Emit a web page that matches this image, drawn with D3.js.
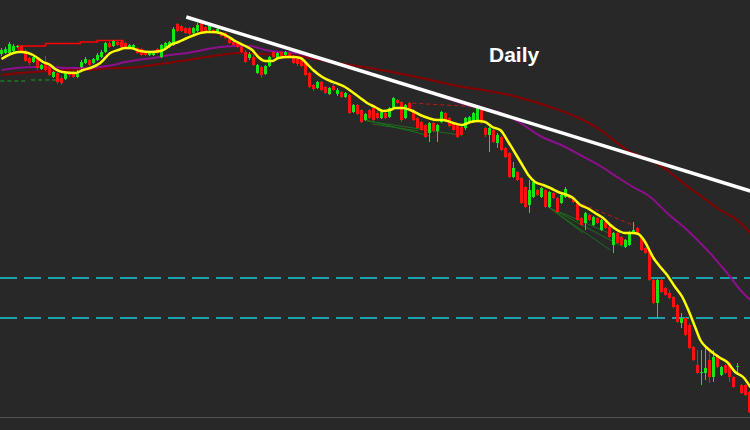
<!DOCTYPE html>
<html><head><meta charset="utf-8">
<script src="https://cdn.jsdelivr.net/npm/d3@7"></script>
<style>html,body{margin:0;padding:0;background:#282828;overflow:hidden}</style>
</head><body>
<svg id="c" width="750" height="430"></svg>
<script>
// Values are in chart level units (level grows downward)
const openV = [54,53,53,51,47,46,51,58,62,59, 69,64,67,77,73,78,79,72,72,77, 67,63,60,63,60,57,52,43,46,42, 42,43,48,49,48,49,52,55,55,49,
 57,48,47,45,24,26,28,28,33,31, 23,27,30,30,33,33,33,37,42,43, 47,52,58,57,73,67,74,66,52,58, 52,55,53,58,59,60,63,73,85,88,
 82,87,94,86,94,92,97,95,112,105, 110,120,110,108,113,118,113,117,108,100, 102,118,103,110,118,122,125,133,123,131, 122,113,118,123,125,127,128,123,122,120,
 110,128,135,130,143,137,148,153,177,172, 178,187,205,197,190,197,190,207,193,198, 203,197,195,198,202,218,223,215,225,218, 230,222,227,245,233,237,247,245,233,228,
 237,248,250,280,303,280,288,293,297,305, 323,318,325,347,365,373,373,360,377,355, 375,365,363,377,367,385,385,392];
const closeV = [50,49,44,46,46,51,61,63,57,68, 65,70,75,72,82,83,73,75,77,72, 62,59,65,59,55,52,43,47,41,45, 47,47,45,45,53,55,55,52,52,53,
 45,43,42,29,31,31,33,34,28,25, 33,32,25,33,29,36,38,43,45,47, 52,62,54,65,65,75,66,57,57,53, 56,52,56,63,64,66,75,87,89,82,
 90,93,88,90,90,97,93,113,105,114, 122,114,118,120,118,112,118,108,98,103, 120,105,110,120,128,130,137,123,131,125, 112,120,126,130,137,135,118,117,113,108,
 123,135,128,142,135,150,157,177,168,180, 203,207,190,182,195,188,207,192,198,212, 195,189,198,202,220,225,213,220,217,223, 220,228,237,233,243,245,240,232,230,233,
 250,253,280,303,280,292,295,298,307,322, 318,335,348,360,373,372,368,377,357,367, 367,373,377,387,366,393,395,412];
const highV = [48,47,42,44,45,45,49,57,56,57, 64,56,66,71,72,76,72,71,71,70, 60,57,59,58,53,50,42,41,40,41, 40,42,44,44,47,48,51,51,51,48,
 44,42,41,27,23,25,27,27,27,23, 22,26,24,29,28,32,32,36,41,42, 46,50,52,55,64,66,65,56,51,52, 51,51,52,55,58,59,62,72,84,81,
 81,86,87,84,88,91,92,94,104,104, 109,113,109,107,111,111,112,107,97,99, 101,104,102,109,117,121,124,122,122,124, 111,112,117,122,124,126,117,116,112,105,
 109,127,127,129,133,136,147,152,162,171, 177,186,180,180,189,187,189,191,192,197, 194,187,194,197,201,217,212,214,216,217, 219,221,226,232,232,236,239,231,222,227,
 236,247,249,279,279,279,287,290,296,304, 313,317,323,346,350,350,348,352,350,354, 366,364,362,376,363,384,384,391];
const lowV = [56,54,55,52,48,52,62,65,63,70, 70,71,76,78,84,85,80,77,78,78, 68,64,66,64,61,58,53,48,47,46, 48,49,49,50,54,56,56,56,56,54,
 58,49,48,46,32,32,34,35,34,32, 34,33,31,34,34,37,39,44,46,48, 53,63,60,66,74,78,75,67,58,59, 57,56,57,64,66,67,76,88,91,89,
 91,94,95,91,96,98,98,114,113,115, 123,121,119,121,119,119,119,118,109,104, 122,119,111,121,129,131,138,142,132,142, 123,121,127,131,138,136,130,124,123,121,
 124,137,152,143,148,151,158,178,178,181, 204,208,213,198,196,198,208,208,199,213, 204,198,199,203,221,226,230,221,226,224, 231,229,238,253,244,246,248,246,234,234,
 251,254,281,304,318,293,296,299,308,323, 328,336,349,361,374,385,380,383,382,368, 376,374,382,388,375,394,396,413];

// Moving averages read at sample points: [candle index, level]
const maFast = [[0,59],[4.2,52],[5.2,52],[7.9,55],[10.4,62],[12.2,65],[13.4,69],[15.2,72],[18.4,73],[20.4,70],[22.2,68],[24.7,63],[27.2,53],[29.2,50],[30.9,48],[32.2,48],[34.7,51],[37.2,52],[39.7,51],[40.9,49],[42.2,45],[44.2,42],[46.4,38],[48.9,34],[51.4,32],[52.9,32],[54.7,33],[56.4,36],[58.4,41],[60.4,45],[62.7,50],[64.2,57],[65.9,61],[67.7,61],[69.2,58],[71.4,57],[72.9,57],[74.7,58],[76.4,64],[77.9,70],[80.2,77],[82.2,81],[84.2,84],[85.9,87],[87.7,92],[89.7,98],[91.4,103],[93.4,107],[95.4,111],[97.2,110],[98.4,108],[100.4,108],[102.2,110],[104.7,115],[106.7,118],[108.9,120],[110.4,120],[112.9,123],[115.2,125],[117.2,122],[119.2,121],[120.9,122],[122.7,127],[124.7,130],[126.7,142],[128.4,153],[130.2,165],[131.7,175],[133.4,182],[135.4,185],[137.2,188],[139.2,192],[141.4,195],[142.9,198],[144.7,205],[146.4,208],[148.4,213],[150.4,218],[152.2,225],[153.9,230],[155.9,233],[157.9,233],[159.2,234],[160.9,242],[162.2,252],[163.0,258],[164.3,265],[166.4,275],[168.4,287],[170.2,297],[171.7,310],[173.4,327],[174.7,340],[176.4,348],[177.9,353],[179.7,358],[181.4,362],[183.4,372],[185.4,377],[187.2,387]];
const maMid = [[0,70],[4,68],[8,67],[12.2,67],[16.4,68],[20.4,68],[24.7,67],[27.9,65],[30.9,62],[33.9,60],[37.9,58],[42.2,55],[46.4,53],[50.4,50],[54.7,47],[58.9,46],[62.2,46],[65.9,50],[69.2,52],[73.4,53],[82.2,62],[94.7,77],[104.7,89],[114.7,103],[116.4,105],[119.7,108],[124.7,113],[129.7,123],[134.7,136],[140.4,146],[144.7,155],[149.7,166],[153.9,177],[157.9,187],[162.2,197],[166.4,213],[171.4,230],[176.4,250],[181.4,273],[184.7,290],[187.2,300]];
const maSlow = [[0,75],[4.7,73],[8,72],[12.2,71],[16.4,70],[20.4,70],[24.7,69],[28.9,68],[30.9,68],[37.9,65],[46.4,60],[54.7,55],[58.9,53],[62.2,53.5],[73.9,56],[82.2,62],[90.4,67],[98.9,73],[107.2,80],[115.4,87],[120.4,90],[128.9,97],[137.2,107],[145.4,120],[149.7,130],[156.4,150],[162.2,160],[166.4,170],[170.4,183],[175.2,197],[179.7,210],[183.9,220],[187.2,233]];

// Annotations: [candle index, level]
const trendLine = [[46.2,17],[187.2,191]];
const levels = [278, 318];
const redStep = [[4.2,50],[4.2,46],[11,46],[11,43.5],[19.7,43.5],[19.7,42],[23.9,42],[23.9,40.5],[30.4,40.5],[30.4,46]];
const greenDash = [[[-0.3,81],[6.7,81]],[[7.4,80],[15.2,80]]];
const redDash = [[[102.2,108],[102.2,103],[119.2,107]],[[145.2,204],[158.4,226]]];
const greenFan = [[[91.2,120],[107.2,136]],[[91.2,121],[114.7,135]],[[92.7,124],[104.2,131]],
                  [[136.7,207],[145.4,233]],[[136.7,207],[152.2,250]],[[137.2,208],[155.4,247]],[[138.4,210],[155.9,240]]];
const label = "Daily";

const W = 750, H = 430;
const svg = d3.select("#c");
const x = d3.scaleLinear().domain([0, 187]).range([1.5, 749.5]);
const y = d3.scaleLinear().domain([0, 430]).range([0, 430]);

svg.append("rect").attr("width", W).attr("height", H).attr("fill", "#282828");

// horizontal levels
svg.selectAll(".lvl").data(levels).join("line")
  .attr("x1", 0).attr("x2", W).attr("y1", d => y(d)).attr("y2", d => y(d))
  .attr("stroke", "#1aa3aa").attr("stroke-width", 2).attr("stroke-dasharray", "17,7");
// bottom separator
svg.append("line").attr("x1", 0).attr("x2", W).attr("y1", 417.5).attr("y2", 417.5)
  .attr("stroke", "#4e5358").attr("stroke-width", 1);

const line = d3.line().x(d => x(d[0])).y(d => y(d[1]));
const smooth = d3.line().x(d => x(d[0])).y(d => y(d[1])).curve(d3.curveMonotoneX);

svg.append("path").attr("d", smooth(maSlow)).attr("fill", "none").attr("stroke", "#8a0000").attr("stroke-width", 2);
svg.append("path").attr("d", smooth(maMid)).attr("fill", "none").attr("stroke", "#8e0f8e").attr("stroke-width", 2);

// annotation lines
svg.append("path").attr("d", line(redStep)).attr("fill", "none").attr("stroke", "#ff0000").attr("stroke-width", 1.5);
greenDash.forEach(s => svg.append("path").attr("d", line(s)).attr("fill", "none")
  .attr("stroke", "#1f7a1f").attr("stroke-width", 1.5).attr("stroke-dasharray", "4,3"));
redDash.forEach(s => svg.append("path").attr("d", line(s)).attr("fill", "none")
  .attr("stroke", "#c01818").attr("stroke-width", 1).attr("stroke-dasharray", "4,3"));
greenFan.forEach(s => svg.append("path").attr("d", line(s)).attr("fill", "none")
  .attr("stroke", "#1c6e1c").attr("stroke-width", 1));

// candles
const idx = d3.range(openV.length);
const col = i => closeV[i] > openV[i] ? "#ff1010" : "#16e616";
svg.selectAll(".wick").data(idx).join("line")
  .attr("x1", i => x(i)).attr("x2", i => x(i))
  .attr("y1", i => y(highV[i])).attr("y2", i => y(lowV[i]))
  .attr("stroke", col).attr("stroke-width", 1);
svg.selectAll(".body").data(idx).join("rect")
  .attr("x", i => x(i) - 1.5).attr("width", 3)
  .attr("y", i => y(Math.min(openV[i], closeV[i])))
  .attr("height", i => Math.max(1, Math.abs(y(closeV[i]) - y(openV[i]))))
  .attr("fill", col);

// fast MA on top
svg.append("path").attr("d", smooth(maFast)).attr("fill", "none").attr("stroke", "#ffff00").attr("stroke-width", 2.5);

// trend line
svg.append("path").attr("d", line(trendLine)).attr("fill", "none").attr("stroke", "#ffffff").attr("stroke-width", 3.5);

svg.append("text").attr("x", 489).attr("y", 62).text(label)
  .attr("fill", "#ffffff").attr("font-family", "'Liberation Sans', Arial, sans-serif")
  .attr("font-weight", "bold").attr("font-size", 21);
</script>
</body></html>
